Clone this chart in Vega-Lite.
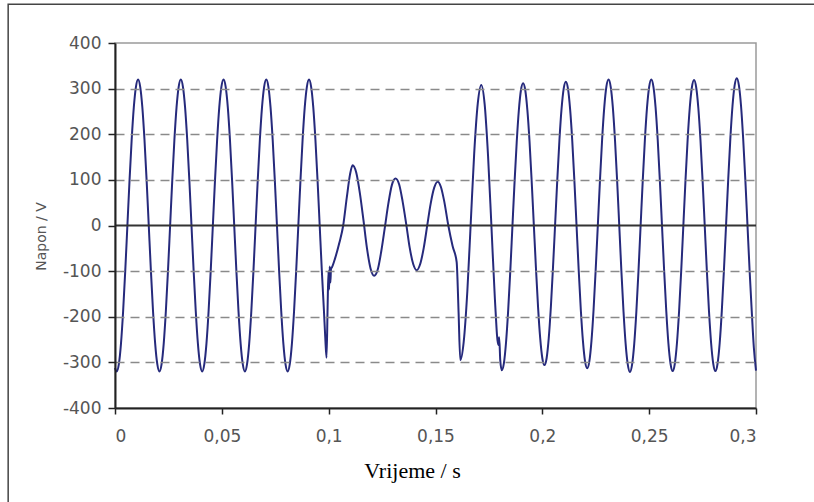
{
  "$schema": "https://vega.github.io/schema/vega-lite/v6.json",
  "width": 641,
  "height": 365,
  "autosize": "none",
  "padding": {"left": 115, "top": 43, "right": 58, "bottom": 94},
  "background": "white",
  "config": {"view": {"stroke": "#9a9a9a", "strokeWidth": 1.5}, "font": "DejaVu Sans"},
  "data": {"values": [
    {"t":0,"v":-312},{"t":0.0008,"v":-320},{"t":0.0018,"v":-304},{"t":0.0028,"v":-259},{"t":0.0038,"v":-188},{"t":0.0048,"v":-99},{"t":0.0058,"v":0},{"t":0.0068,"v":99},{"t":0.0078,"v":188},{"t":0.0088,"v":259},{"t":0.0098,"v":304},
    {"t":0.0108,"v":320},{"t":0.0118,"v":304},{"t":0.0128,"v":259},{"t":0.0138,"v":188},{"t":0.0148,"v":99},{"t":0.0158,"v":0},{"t":0.0168,"v":-99},{"t":0.0178,"v":-188},{"t":0.0188,"v":-259},{"t":0.0198,"v":-304},
    {"t":0.0208,"v":-320},{"t":0.0218,"v":-304},{"t":0.0228,"v":-259},{"t":0.0238,"v":-188},{"t":0.0248,"v":-99},{"t":0.0258,"v":0},{"t":0.0268,"v":99},{"t":0.0278,"v":188},{"t":0.0288,"v":259},{"t":0.0298,"v":304},
    {"t":0.0308,"v":320},{"t":0.0318,"v":304},{"t":0.0328,"v":259},{"t":0.0338,"v":188},{"t":0.0348,"v":99},{"t":0.0358,"v":0},{"t":0.0368,"v":-99},{"t":0.0378,"v":-188},{"t":0.0388,"v":-259},{"t":0.0398,"v":-304},
    {"t":0.0408,"v":-320},{"t":0.0418,"v":-304},{"t":0.0428,"v":-259},{"t":0.0438,"v":-188},{"t":0.0448,"v":-99},{"t":0.0458,"v":0},{"t":0.0468,"v":99},{"t":0.0478,"v":188},{"t":0.0488,"v":259},{"t":0.0498,"v":304},
    {"t":0.0508,"v":320},{"t":0.0518,"v":304},{"t":0.0528,"v":259},{"t":0.0538,"v":188},{"t":0.0548,"v":99},{"t":0.0558,"v":0},{"t":0.0568,"v":-99},{"t":0.0578,"v":-188},{"t":0.0588,"v":-259},{"t":0.0598,"v":-304},
    {"t":0.0608,"v":-320},{"t":0.0618,"v":-304},{"t":0.0628,"v":-259},{"t":0.0638,"v":-188},{"t":0.0648,"v":-99},{"t":0.0658,"v":0},{"t":0.0668,"v":99},{"t":0.0678,"v":188},{"t":0.0688,"v":259},{"t":0.0698,"v":304},
    {"t":0.0708,"v":320},{"t":0.0718,"v":304},{"t":0.0728,"v":259},{"t":0.0738,"v":188},{"t":0.0748,"v":99},{"t":0.0758,"v":0},{"t":0.0768,"v":-99},{"t":0.0778,"v":-188},{"t":0.0788,"v":-259},{"t":0.0798,"v":-304},
    {"t":0.0808,"v":-320},{"t":0.0818,"v":-304},{"t":0.0828,"v":-259},{"t":0.0838,"v":-188},{"t":0.0848,"v":-99},{"t":0.0858,"v":0},{"t":0.0868,"v":99},{"t":0.0878,"v":188},{"t":0.0888,"v":259},{"t":0.0898,"v":304},
    {"t":0.0908,"v":320},{"t":0.0918,"v":304},{"t":0.0928,"v":259},{"t":0.0938,"v":188},{"t":0.0948,"v":99},{"t":0.0958,"v":0},{"t":0.0968,"v":-99},{"t":0.0978,"v":-188},{"t":0.0984,"v":-245},{"t":0.099,"v":-290},
    {"t":0.0995,"v":-180},{"t":0.0999,"v":-100},{"t":0.1002,"v":-140},{"t":0.1005,"v":-90},{"t":0.1008,"v":-125},{"t":0.1011,"v":-95},{"t":0.1015,"v":-92},{"t":0.103,"v":-72},{"t":0.105,"v":-38},{"t":0.1068,"v":0},{"t":0.1085,"v":62},{"t":0.11,"v":112},
    {"t":0.1112,"v":132},{"t":0.1129,"v":116},{"t":0.1146,"v":71},{"t":0.1163,"v":11},{"t":0.1179,"v":-49},{"t":0.1196,"v":-94},{"t":0.1213,"v":-110},
    {"t":0.123,"v":-96},{"t":0.1246,"v":-57},{"t":0.1263,"v":-4},{"t":0.128,"v":50},{"t":0.1296,"v":89},{"t":0.1313,"v":103},
    {"t":0.133,"v":90},{"t":0.1346,"v":53},{"t":0.1363,"v":3},{"t":0.1379,"v":-48},{"t":0.1396,"v":-85},{"t":0.1412,"v":-98},
    {"t":0.1428,"v":-85},{"t":0.1445,"v":-49},{"t":0.1461,"v":-1},{"t":0.1477,"v":47},{"t":0.1494,"v":83},{"t":0.151,"v":96},
    {"t":0.1525,"v":85},{"t":0.154,"v":55},{"t":0.156,"v":0},{"t":0.158,"v":-45},{"t":0.1599,"v":-80},{"t":0.1608,"v":-190},{"t":0.1616,"v":-295},
    {"t":0.1632,"v":-255},{"t":0.1649,"v":-144},{"t":0.1665,"v":6},{"t":0.1681,"v":157},{"t":0.1698,"v":268},{"t":0.1714,"v":308},
    {"t":0.173,"v":266},{"t":0.1746,"v":152},{"t":0.1762,"v":-4},{"t":0.1778,"v":-161},{"t":0.1794,"v":-262},{"t":0.1798,"v":-245},{"t":0.1803,"v":-295},{"t":0.181,"v":-317},
    {"t":0.182,"v":-302},{"t":0.183,"v":-257},{"t":0.184,"v":-187},{"t":0.185,"v":-100},{"t":0.186,"v":-2},{"t":0.187,"v":95},{"t":0.188,"v":182},{"t":0.189,"v":252},{"t":0.19,"v":297},{"t":0.191,"v":312},
    {"t":0.192,"v":297},{"t":0.193,"v":253},{"t":0.194,"v":185},{"t":0.195,"v":98},{"t":0.196,"v":3},{"t":0.197,"v":-92},{"t":0.198,"v":-179},{"t":0.199,"v":-247},{"t":0.2,"v":-291},{"t":0.201,"v":-306},
    {"t":0.202,"v":-291},{"t":0.203,"v":-247},{"t":0.204,"v":-178},{"t":0.205,"v":-91},{"t":0.206,"v":4},{"t":0.207,"v":100},{"t":0.208,"v":187},{"t":0.209,"v":256},{"t":0.21,"v":300},{"t":0.211,"v":315},
    {"t":0.212,"v":300},{"t":0.213,"v":255},{"t":0.214,"v":186},{"t":0.215,"v":98},{"t":0.216,"v":1},{"t":0.217,"v":-96},{"t":0.218,"v":-184},{"t":0.219,"v":-253},{"t":0.22,"v":-298},{"t":0.221,"v":-313},
    {"t":0.222,"v":-298},{"t":0.223,"v":-253},{"t":0.224,"v":-183},{"t":0.225,"v":-94},{"t":0.226,"v":3},{"t":0.227,"v":101},{"t":0.228,"v":190},{"t":0.229,"v":260},{"t":0.23,"v":305},{"t":0.231,"v":320},
    {"t":0.232,"v":304},{"t":0.233,"v":259},{"t":0.234,"v":188},{"t":0.235,"v":99},{"t":0.236,"v":0},{"t":0.237,"v":-100},{"t":0.238,"v":-189},{"t":0.239,"v":-260},{"t":0.24,"v":-305},{"t":0.241,"v":-321},
    {"t":0.242,"v":-305},{"t":0.243,"v":-260},{"t":0.244,"v":-189},{"t":0.245,"v":-100},{"t":0.246,"v":0},{"t":0.247,"v":99},{"t":0.248,"v":188},{"t":0.249,"v":259},{"t":0.25,"v":304},{"t":0.251,"v":320},
    {"t":0.252,"v":304},{"t":0.253,"v":259},{"t":0.254,"v":188},{"t":0.255,"v":99},{"t":0.256,"v":0},{"t":0.257,"v":-98},{"t":0.258,"v":-187},{"t":0.259,"v":-258},{"t":0.26,"v":-303},{"t":0.261,"v":-319},
    {"t":0.262,"v":-303},{"t":0.263,"v":-258},{"t":0.264,"v":-188},{"t":0.265,"v":-99},{"t":0.266,"v":0},{"t":0.267,"v":99},{"t":0.268,"v":188},{"t":0.269,"v":258},{"t":0.27,"v":303},{"t":0.271,"v":319},
    {"t":0.272,"v":303},{"t":0.273,"v":258},{"t":0.274,"v":188},{"t":0.275,"v":99},{"t":0.276,"v":0},{"t":0.277,"v":-99},{"t":0.278,"v":-188},{"t":0.279,"v":-258},{"t":0.28,"v":-303},{"t":0.281,"v":-319},
    {"t":0.282,"v":-303},{"t":0.283,"v":-258},{"t":0.284,"v":-187},{"t":0.285,"v":-97},{"t":0.286,"v":2},{"t":0.287,"v":101},{"t":0.288,"v":191},{"t":0.289,"v":262},{"t":0.29,"v":307},{"t":0.291,"v":323},
    {"t":0.292,"v":307},{"t":0.293,"v":262},{"t":0.294,"v":190},{"t":0.295,"v":101},{"t":0.296,"v":2},{"t":0.297,"v":-98},{"t":0.298,"v":-187},{"t":0.299,"v":-268},{"t":0.3,"v":-318}
  ]},
  "layer": [
    {
      "data": {"values": [{}]},
      "mark": {"type": "rect", "fill": null, "stroke": "#444444", "strokeWidth": 1.5, "clip": false},
      "encoding": {
        "x": {"datum": -0.05, "type": "quantitative"},
        "x2": {"datum": 0.6},
        "y": {"datum": 485, "type": "quantitative"},
        "y2": {"datum": -1200}
      }
    },
    {
      "mark": {"type": "line", "color": "#262a7c", "strokeWidth": 2, "interpolate": "monotone"},
      "encoding": {
        "x": {
          "field": "t", "type": "quantitative",
          "scale": {"domain": [0, 0.3], "nice": false, "zero": false},
          "axis": {
            "values": [0, 0.05, 0.1, 0.15, 0.2, 0.25, 0.3],
            "labelExpr": "replace(format(datum.value, '.2~f'), '.', ',')",
            "grid": false,
            "domainColor": "#222222", "domainWidth": 2,
            "tickColor": "#222222", "tickWidth": 1.5, "tickSize": 6,
            "labelFont": "DejaVu Sans", "labelFontSize": 17, "labelColor": "#555555", "labelPadding": 14,
            "title": "Vrijeme / s", "titleFont": "Liberation Serif", "titleFontSize": 22, "titleFontWeight": "normal",
            "titleColor": "#000000", "titleX": 297, "titleY": 69, "titleBaseline": "alphabetic", "titleAlign": "center"
          }
        },
        "y": {
          "field": "v", "type": "quantitative",
          "scale": {"domain": [-400, 400], "nice": false},
          "axis": {
            "values": [-400, -300, -200, -100, 0, 100, 200, 300, 400],
            "labelExpr": "'' + datum.value",
            "grid": true, "gridColor": "#8a8a8a", "gridDash": [9, 6], "gridWidth": 1.5,
            "gridOpacity": {"condition": {"test": "abs(datum.value) == 400 || datum.value == 0", "value": 0}, "value": 1},
            "domainColor": "#222222", "domainWidth": 2,
            "tickColor": "#222222", "tickWidth": 1.5, "tickSize": 7,
            "labelFont": "DejaVu Sans", "labelFontSize": 17, "labelColor": "#555555", "labelPadding": 7,
            "title": "Napon / V", "titleFont": "DejaVu Sans", "titleFontSize": 14, "titleFontWeight": "normal",
            "titleColor": "#555555", "titleAngle": -90, "titleX": -74, "titleY": 193,
            "titleBaseline": "middle", "titleAlign": "center", "zindex": 1
          }
        }
      }
    },
    {
      "data": {"values": [{}]},
      "mark": {"type": "rule", "color": "#333333", "strokeWidth": 2},
      "encoding": {"y": {"datum": 0, "type": "quantitative"}}
    }
  ]
}
